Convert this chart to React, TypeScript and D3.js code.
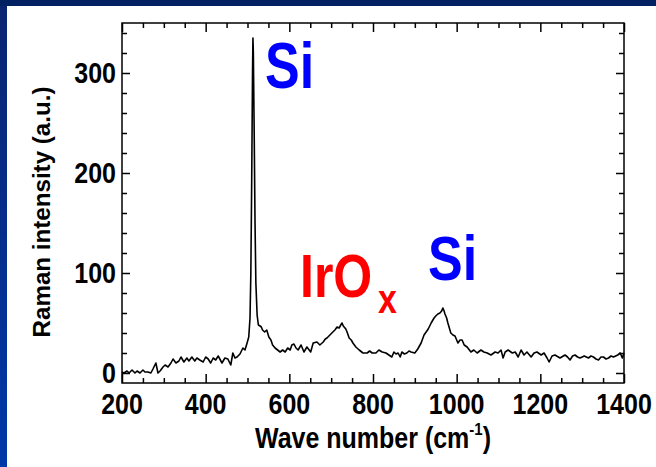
import { useEffect, useRef } from 'react'
import * as d3 from 'd3'

// Raman spectrum
const waveNumber = [
  200, 205, 212, 217, 224, 231, 236, 243, 250, 255, 262, 269, 274, 281, 286, 291, 298, 303, 310, 317,
  322, 329, 336, 341, 348, 355, 360, 367, 374, 379, 386, 394, 400, 406, 412, 418, 424, 430, 439, 446,
  453, 460, 465, 470, 475, 482, 489, 494, 499, 503, 506, 508, 510, 512, 513, 514, 516, 518, 520, 523,
  526, 530, 533, 536, 541, 546, 551, 556, 560, 566, 572, 578, 584, 590, 596, 602, 606, 611, 616, 621,
  628, 635, 642, 651, 657, 666, 673, 681, 686, 690, 697, 704, 709, 714, 719, 723, 726, 729, 731, 735,
  738, 743, 748, 752, 759, 767, 776, 786, 792, 798, 807, 814, 822, 831, 838, 845, 850, 855, 860, 865,
  869, 875, 881, 886, 891, 900, 907, 915, 922, 927, 932, 939, 946, 950, 955, 960, 964, 967, 970, 972,
  976, 979, 986, 991, 996, 1003, 1008, 1013, 1018, 1025, 1034, 1041, 1049, 1058, 1065, 1073, 1082, 1092, 1099, 1106,
  1111, 1116, 1123, 1133, 1140, 1147, 1154, 1161, 1168, 1178, 1185, 1192, 1202, 1209, 1216, 1221, 1228, 1235, 1247, 1259,
  1265, 1271, 1277, 1283, 1289, 1295, 1305, 1315, 1321, 1327, 1333, 1339, 1345, 1351, 1357, 1363, 1369, 1375, 1380, 1385,
  1391, 1396, 1400,
]
const intensity = [
  1, 0, 2, 0, 3, 0, 2, 0, 3, 1, 1, 0, 4, 10, 0, 2, 6, 8, 6, 10,
  14, 10, 12, 16, 11, 15, 12, 16, 12, 15, 13, 11, 16, 14, 10, 15, 13, 17, 10, 15,
  14, 8, 20, 15, 16, 19, 25, 23, 30, 36, 55, 100, 190, 300, 335, 320, 240, 150, 90, 58,
  48, 47, 46, 43, 41, 43, 36, 33, 28, 25, 23, 21, 23, 21, 25, 23, 28, 29, 25, 23,
  28, 21, 26, 21, 30, 31, 28, 31, 34, 35, 38, 41, 43, 46, 45, 48, 50, 47, 46, 44,
  41, 35, 33, 30, 26, 23, 20, 20, 22, 20, 20, 23, 21, 20, 18, 16, 21, 19, 20, 16,
  21, 19, 20, 22, 21, 20, 24, 30, 38, 41, 44, 50, 55, 57, 59, 60, 62, 65, 62, 59,
  55, 50, 40, 38, 37, 30, 33, 33, 28, 26, 21, 23, 20, 23, 21, 20, 18, 21, 20, 23,
  15, 21, 23, 20, 21, 16, 23, 18, 21, 16, 20, 21, 18, 20, 15, 11, 17, 18, 15, 18,
  16, 13, 17, 18, 16, 15, 17, 15, 17, 16, 14, 13, 16, 16, 14, 15, 17, 16, 17, 18,
  20, 15, 20,
]

const xTickLabels = [200, 400, 600, 800, 1000, 1200, 1400]
const yTickLabels = [0, 100, 200, 300]

const FONT = '"Liberation Sans", Arial, Helvetica, sans-serif'

export default function App() {
  const svgRef = useRef<SVGSVGElement>(null)

  useEffect(() => {
    const W = 656
    const H = 467
    const svg = d3.select(svgRef.current)
    svg.selectAll('*').remove()
    svg.attr('width', W).attr('height', H)

    // slide background: navy band on top, blue gradient on the left
    const defs = svg.append('defs')
    const grad = defs.append('linearGradient').attr('id', 'sideBlue')
      .attr('x1', 0).attr('y1', 0).attr('x2', 0).attr('y2', 1)
    grad.append('stop').attr('offset', '0%').attr('stop-color', '#0a2470')
    grad.append('stop').attr('offset', '100%').attr('stop-color', '#0038a8')

    svg.append('rect').attr('width', W).attr('height', H).attr('fill', '#ffffff')
    svg.append('rect').attr('x', 0).attr('y', 0).attr('width', 7).attr('height', H).attr('fill', 'url(#sideBlue)')
    svg.append('rect').attr('x', 0).attr('y', 0).attr('width', W).attr('height', 6).attr('fill', '#002263')

    const x = d3.scaleLinear().domain([200, 1400]).range([122, 624])
    const y = d3.scaleLinear().domain([-10, 350]).range([383, 23])
    const [x0, x1] = x.range()
    const [yb, yt] = y.range()

    const xMajor = d3.range(200, 1401, 200)
    const xMinor = d3.range(250, 1400, 50).filter((v) => v % 200 !== 0)
    const yMajor = d3.range(0, 351, 100)
    const yMinor = d3.range(0, 350, 20).filter((v) => v % 100 !== 0)

    const styleAxis = (sel: d3.Selection<SVGGElement, unknown, null, undefined>) => {
      sel.select('.domain').remove()
      sel.selectAll('.tick line').attr('stroke', '#000').attr('stroke-width', 1.5)
    }

    const addAxis = (axis: d3.Axis<d3.NumberValue>, tx: number, ty: number) => {
      svg.append('g')
        .attr('transform', `translate(${tx},${ty})`)
        .call(axis)
        .call(styleAxis)
    }

    // inward ticks on all four sides
    addAxis(d3.axisBottom(x).tickValues(xMajor).tickSize(-9).tickFormat(() => ''), 0, yb)
    addAxis(d3.axisBottom(x).tickValues(xMinor).tickSize(-5).tickFormat(() => ''), 0, yb)
    addAxis(d3.axisTop(x).tickValues(xMajor).tickSize(-9).tickFormat(() => ''), 0, yt)
    addAxis(d3.axisTop(x).tickValues(xMinor).tickSize(-5).tickFormat(() => ''), 0, yt)
    addAxis(d3.axisLeft(y).tickValues(yMajor).tickSize(-8).tickFormat(() => ''), x0, 0)
    addAxis(d3.axisLeft(y).tickValues(yMinor).tickSize(-5).tickFormat(() => ''), x0, 0)
    addAxis(d3.axisRight(y).tickValues(yMajor).tickSize(-8).tickFormat(() => ''), x1, 0)
    addAxis(d3.axisRight(y).tickValues(yMinor).tickSize(-5).tickFormat(() => ''), x1, 0)

    // frame
    svg.append('rect')
      .attr('x', x0).attr('y', yt)
      .attr('width', x1 - x0).attr('height', yb - yt)
      .attr('fill', 'none').attr('stroke', '#000').attr('stroke-width', 1.5)

    // spectrum
    const pts: [number, number][] = waveNumber.map((w, i) => [w, intensity[i]])
    const line = d3.line<[number, number]>().x((d) => x(d[0])).y((d) => y(d[1]))
    svg.append('path')
      .datum(pts)
      .attr('fill', 'none')
      .attr('stroke', '#000')
      .attr('stroke-width', 1.6)
      .attr('stroke-linejoin', 'round')
      .attr('d', line)

    // stretched bold text (the original export is squeezed horizontally)
    const label = (txt: string, tx: number, ty: number, size: number, sy: number, anchor: string, fill = '#000') =>
      svg.append('text')
        .attr('transform', `translate(${tx},${ty}) scale(1,${sy})`)
        .attr('text-anchor', anchor)
        .attr('font-family', FONT)
        .attr('font-weight', 'bold')
        .attr('font-size', size)
        .attr('fill', fill)
        .text(txt)

    xTickLabels.forEach((v) => label(String(v), x(v), 414, 25, 1.16, 'middle'))
    yTickLabels.forEach((v) => label(String(v), 116, y(v) + 10, 25, 1.16, 'end'))

    // x title with superscript
    const xt = svg.append('text')
      .attr('transform', `translate(373,448) scale(1,1.16)`)
      .attr('text-anchor', 'middle')
      .attr('font-family', FONT)
      .attr('font-weight', 'bold')
      .attr('font-size', 25)
    xt.append('tspan').text('Wave number (cm')
    xt.append('tspan').attr('font-size', 15).attr('dy', -11).text('-1')
    xt.append('tspan').attr('dy', 11).text(')')

    // y title
    svg.append('text')
      .attr('transform', `translate(50,212) rotate(-90) scale(1.05,1)`)
      .attr('text-anchor', 'middle')
      .attr('font-family', FONT)
      .attr('font-weight', 'bold')
      .attr('font-size', 23)
      .text('Raman intensity (a.u.)')

    // peak annotations
    label('Si', 265, 88, 52, 1.24, 'start', '#0000ff')
    label('IrO', 300, 297, 50, 1.22, 'start', '#ff0000')
    label('x', 378, 313, 34, 1.18, 'start', '#ff0000')
    label('Si', 428, 280, 52, 1.2, 'start', '#0000ff')
  }, [])

  return (
    <div style={{ position: 'absolute', left: 0, top: 0 }}>
      <svg ref={svgRef} style={{ display: 'block' }} />
    </div>
  )
}
